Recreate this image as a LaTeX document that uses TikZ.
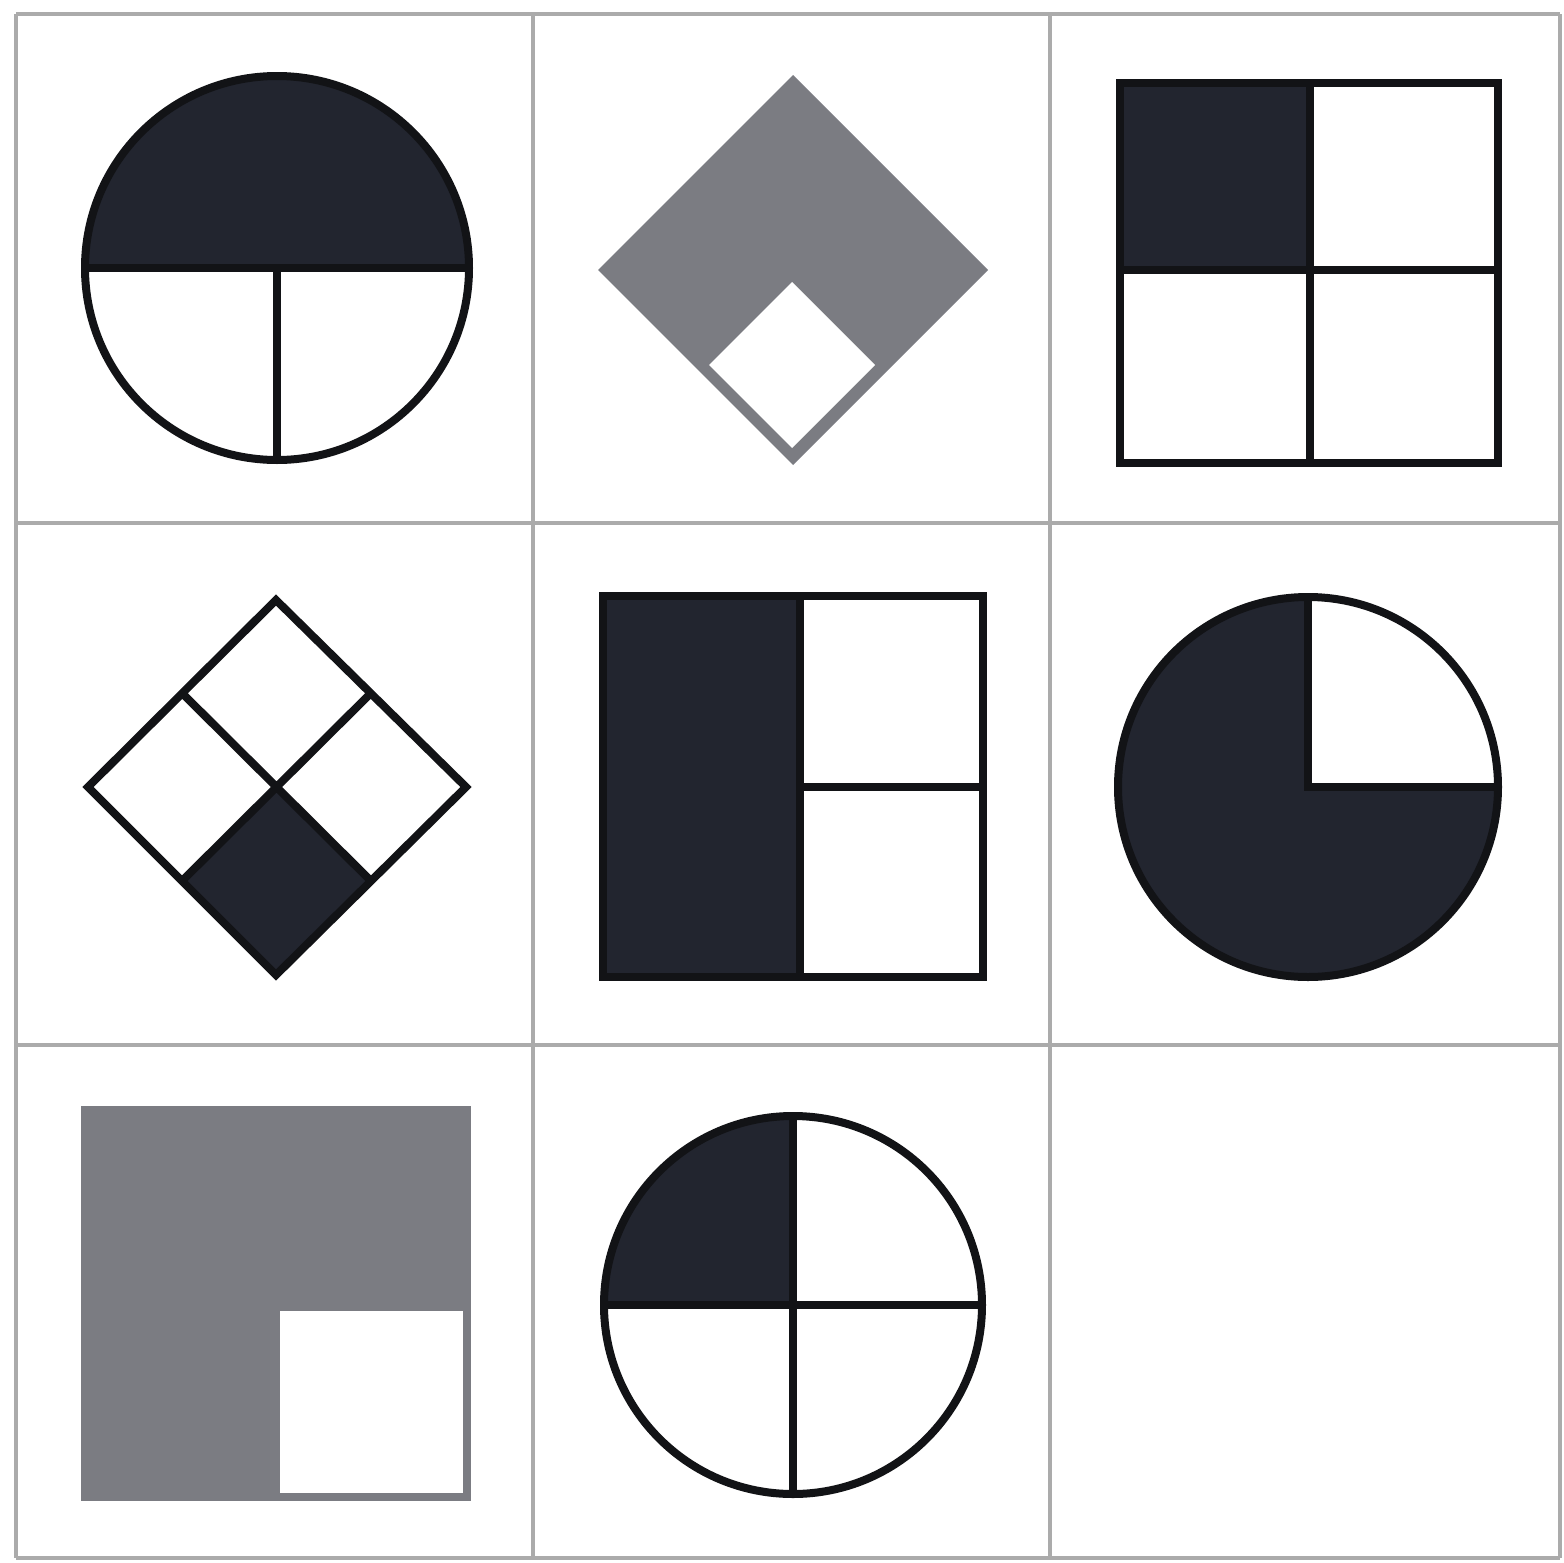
\documentclass[tikz,border=0pt]{standalone}
\usepackage{xcolor}
\usepackage{tikz}
\usetikzlibrary{calc}
\definecolor{tinta}{HTML}{22252F}
\definecolor{trazo}{HTML}{121316}
\definecolor{grafito}{HTML}{7B7C82}
\definecolor{rejilla}{HTML}{ABABAB}

\begin{document}
\begin{tikzpicture}[x=0.5pt, y=-0.5pt,
    contorno/.style={draw=trazo, line width=4pt},
    gris/.style={draw=grafito, line width=4pt},
    celda/.style={draw=rejilla, line width=2pt}]
    \useasboundingbox (0,0) rectangle (1564,1563);
    \fill[white] (0,0) rectangle (1564,1563);
    \foreach \x in {16,533,1050,1560} {\draw[celda] (\x,14) -- (\x,1558);}
    \foreach \y in {14,523,1045,1558} {\draw[celda] (16,\y) -- (1560,\y);}
    % fila 1
    \begin{scope}
      \clip (277,268) circle (192);
      \fill[tinta] (60,60) rectangle (500,268);
    \end{scope}
    \draw[contorno] (85,268) -- (469,268) (277,268) -- (277,460);
    \draw[contorno] (277,268) circle (192);
    \fill[grafito] (793,75) -- (988,270) -- (793,465) -- (598,270) -- cycle;
    \fill[white] (792,282) -- (875,365) -- (792,448) -- (709,365) -- cycle;
    \fill[tinta] (1120,83) rectangle (1310,270);
    \draw[contorno] (1120,83) rectangle (1498,463) (1310,83) -- (1310,463) (1120,270) -- (1498,270);
    % fila 2
    \fill[tinta] (276,787) -- (371,881) -- (276,975) -- (182,881) -- cycle;
    \draw[contorno] (276,600) -- (466,787) -- (276,975) -- (88,787) -- cycle
      (182,693) -- (371,881) (371,693) -- (182,881);
    \fill[tinta] (603,596) rectangle (800,977);
    \draw[contorno] (603,596) rectangle (983,977) (800,596) -- (800,977) (800,787) -- (983,787);
    \fill[tinta] (1308,787) circle (190);
    \begin{scope}
      \clip (1308,787) circle (190);
      \fill[white] (1308,787) rectangle (1520,580);
    \end{scope}
    \draw[contorno] (1308,597) -- (1308,787) -- (1498,787);
    \draw[contorno] (1308,787) circle (190);
    % fila 3
    \fill[grafito] (85,1110) rectangle (467,1497);
    \fill[white] (276,1307) rectangle (467,1497);
    \draw[gris] (85,1110) rectangle (467,1497) (276,1307) rectangle (467,1497);
    \begin{scope}
      \clip (793,1305) circle (189);
      \fill[tinta] (793,1305) rectangle (590,1100);
    \end{scope}
    \draw[contorno] (604,1305) -- (982,1305) (793,1116) -- (793,1494);
    \draw[contorno] (793,1305) circle (189);
  \end{tikzpicture}
\end{document}
